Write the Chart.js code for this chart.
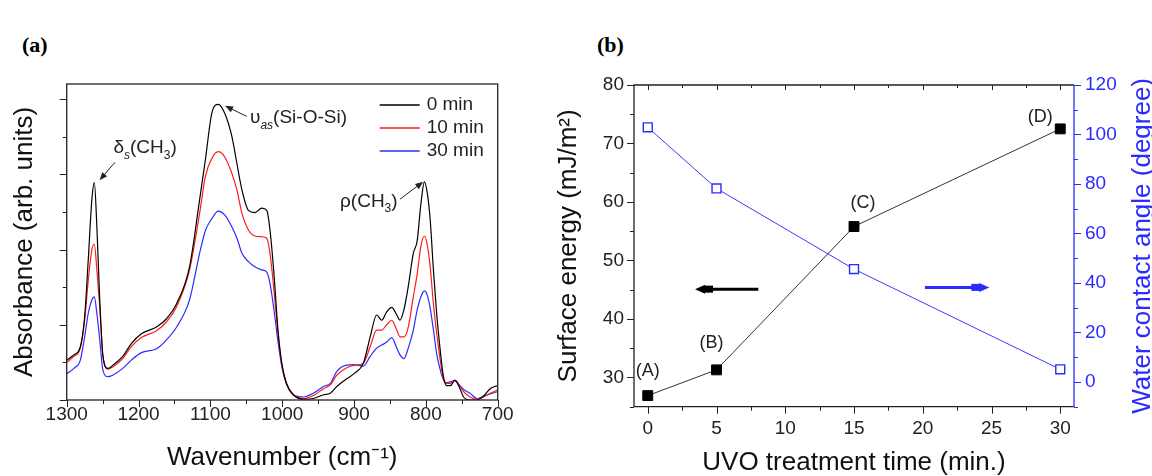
<!DOCTYPE html>
<html>
<head>
<meta charset="utf-8">
<script src="https://cdn.jsdelivr.net/npm/chart.js@4.4.0/dist/chart.umd.min.js"></script>
<style>
body { margin:0; background:#fff; width:1152px; height:476px; overflow:hidden; position:relative; }
#boxA { position:absolute; left:0; top:0; width:540px; height:476px; }
#boxB { position:absolute; left:540px; top:0; width:612px; height:476px; }
.tag { position:absolute; font-family:'Liberation Serif', serif; font-weight:bold; font-size:22px; line-height:24px; color:#000; }
</style>
</head>
<body>
<div class="tag" style="left:22px; top:33px;">(a)</div>
<div class="tag" style="left:597px; top:33px;">(b)</div>
<div id="boxA"><canvas id="chartA" width="540" height="476"></canvas></div>
<div id="boxB"><canvas id="chartB" width="612" height="476"></canvas></div>
<script>
// ---- panel (a): FTIR spectra ----
const wavenumber = [1300,1290,1281,1275,1270,1265,1261.5,1258,1254,1249.5,1242.5,1236,1222,1210,1196,1175,1161,1147,1129,1115,1107,1098,1089,1080,1070,1063,1056,1047,1038,1028.5,1021.5,1017,1011.5,1005.5,1000.5,994,984.5,970.5,956.5,942.5,933,924,912,900,887,877.5,868.5,861.5,854.5,847.5,840.5,836,830.5,824.5,817.5,812,807,802,798,794,789.5,785,780,775.5,771,766,759.5,752.5,747.5,738.5,729,720,710.5,701];
const abs0min = [0.53,0.60,0.71,1.11,1.86,2.66,2.89,2.30,1.33,0.58,0.42,0.46,0.58,0.75,0.88,0.97,1.08,1.28,1.77,2.66,3.19,3.81,3.93,3.81,3.50,3.14,2.79,2.52,2.49,2.55,2.52,2.26,1.68,0.89,0.49,0.22,0.07,0.01,0.02,0.07,0.09,0.18,0.27,0.35,0.49,0.84,1.13,1.06,1.17,1.23,1.13,1.06,1.20,1.51,1.95,2.12,2.60,2.90,2.75,2.40,1.73,1.15,0.66,0.31,0.19,0.19,0.26,0.15,0.04,0.00,0.00,0.05,0.15,0.19];
const abs10min = [0.50,0.58,0.69,1.06,1.59,2.00,2.07,1.73,1.24,0.58,0.41,0.44,0.55,0.71,0.83,0.92,1.04,1.24,1.73,2.48,2.97,3.21,3.30,3.23,3.01,2.79,2.48,2.26,2.18,2.17,2.15,1.95,1.46,0.84,0.46,0.21,0.07,0.02,0.06,0.15,0.20,0.33,0.42,0.46,0.49,0.71,0.93,0.93,1.00,1.06,0.93,0.84,0.84,0.97,1.37,1.68,2.04,2.18,2.06,1.77,1.28,0.89,0.53,0.27,0.22,0.22,0.26,0.18,0.11,0.04,0.01,0.04,0.09,0.13];
const abs30min = [0.35,0.42,0.53,0.84,1.15,1.33,1.37,1.15,0.80,0.39,0.31,0.33,0.42,0.53,0.63,0.68,0.80,0.97,1.33,1.95,2.25,2.41,2.51,2.46,2.30,2.15,1.95,1.84,1.77,1.73,1.70,1.55,1.20,0.75,0.44,0.22,0.07,0.04,0.09,0.18,0.22,0.38,0.46,0.47,0.45,0.58,0.69,0.73,0.77,0.83,0.69,0.60,0.55,0.69,0.93,1.20,1.37,1.45,1.39,1.22,0.93,0.62,0.40,0.27,0.23,0.24,0.26,0.19,0.14,0.09,0.02,0.05,0.08,0.11];
const spectraNames = ['0 min','10 min','30 min'];
const spectraColors = ['#000000','#ff1a1a','#2b2bff'];
const wnTicks = [1300,1200,1100,1000,900,800,700];

// ---- panel (b): surface energy / contact angle ----
const uvoTime = [0,5,15,30];
const surfaceEnergy = [26.9,31.3,55.8,72.5];
const contactAngle = [102.9,78.2,45.6,5.1];
const sampleTags = ['(A)','(B)','(C)','(D)'];
const timeTicks = [0,5,10,15,20,25,30];
const energyTicks = [30,40,50,60,70,80];
const angleTicks = [0,20,40,60,80,100,120];

const FONT = '"Liberation Sans", Arial, sans-serif';
const BLUE = '#2b2bff';

function pts(xs, ys){ return xs.map((x,i)=>({x:x, y:ys[i]})); }
function setTicks(list){ return function(scale){ scale.ticks = list.map(v=>({value:v})); }; }
function plain(v){ return String(v); }

function tickRun(ctx, scale, from, to, step, majorEvery, side, color, lenMajor, lenMinor){
    ctx.strokeStyle = color;
    ctx.lineWidth = 1;
    ctx.beginPath();
    for (let v = from; v <= to + 1e-9; v += step){
        const major = Math.abs(v/majorEvery - Math.round(v/majorEvery)) < 1e-6;
        const len = major ? lenMajor : lenMinor;
        const p = Math.round(scale.getPixelForValue(v)) + 0.5;
        if (side === 'bottom'){ ctx.moveTo(p, scale.top); ctx.lineTo(p, scale.top + len); }
        if (side === 'top'){ const a = scale.chart.chartArea.top; ctx.moveTo(p, a); ctx.lineTo(p, a + len); }
        if (side === 'left'){ ctx.moveTo(scale.right, p); ctx.lineTo(scale.right - len, p); }
        if (side === 'right'){ ctx.moveTo(scale.left, p); ctx.lineTo(scale.left + len, p); }
    }
    ctx.stroke();
}

// text with sub-scripts: parts = [[text, sub?, italic?], ...]
function richText(ctx, parts, x, y, size){
    let cx = x;
    parts.forEach(function(p){
        const s = p[1] ? Math.round(size*0.62) : size;
        ctx.font = (p[2] ? 'italic ' : '') + s + 'px ' + FONT;
        ctx.fillText(p[0], cx, y + (p[1] ? size*0.4 : 0));
        cx += ctx.measureText(p[0]).width;
    });
}

function arrowLine(ctx, x1, y1, x2, y2, head){
    const a = Math.atan2(y2-y1, x2-x1);
    ctx.beginPath(); ctx.moveTo(x1,y1); ctx.lineTo(x2 - Math.cos(a)*head*0.8, y2 - Math.sin(a)*head*0.8); ctx.stroke();
    ctx.beginPath();
    ctx.moveTo(x2, y2);
    ctx.lineTo(x2 - head*Math.cos(a) + head*0.4*Math.sin(a), y2 - head*Math.sin(a) - head*0.4*Math.cos(a));
    ctx.lineTo(x2 - head*Math.cos(a) - head*0.4*Math.sin(a), y2 - head*Math.sin(a) + head*0.4*Math.cos(a));
    ctx.closePath(); ctx.fill();
}

// chunky arrow: shaft + block + point, horizontal
function blockArrow(ctx, xTail, xTip, y, color){
    const dir = xTip > xTail ? 1 : -1;
    ctx.fillStyle = color; ctx.strokeStyle = color;
    ctx.lineWidth = 3;
    ctx.beginPath(); ctx.moveTo(xTail, y); ctx.lineTo(xTip - dir*16, y); ctx.stroke();
    ctx.fillRect(Math.min(xTip - dir*18, xTip - dir*9), y - 3.5, 9, 7);
    ctx.beginPath();
    ctx.moveTo(xTip, y); ctx.lineTo(xTip - dir*10, y - 4.5); ctx.lineTo(xTip - dir*10, y + 4.5);
    ctx.closePath(); ctx.fill();
}

const frameA = {
    id: 'frameA',
    afterDraw(chart){
        const ctx = chart.ctx, a = chart.chartArea;
        const xs = chart.scales.x, ys = chart.scales.y;
        ctx.save();
        ctx.strokeStyle = '#222'; ctx.lineWidth = 1.3;
        ctx.strokeRect(a.left, a.top, a.right - a.left, a.bottom - a.top);
        tickRun(ctx, xs, 700, 1300, 50, 100, 'bottom', '#222', 7, 4);
        tickRun(ctx, ys, 0, 4, 0.5, 1, 'left', '#222', 7, 4);

        // legend
        ctx.textBaseline = 'middle'; ctx.textAlign = 'left';
        spectraNames.forEach(function(n, i){
            const y = a.top + 21 + i*23;
            ctx.strokeStyle = spectraColors[i]; ctx.lineWidth = 1.3;
            ctx.beginPath(); ctx.moveTo(a.right - 118, y); ctx.lineTo(a.right - 78, y); ctx.stroke();
            ctx.fillStyle = '#222'; ctx.font = '19px ' + FONT;
            ctx.fillText(n, a.right - 71, y);
        });

        // peak annotations (data coordinates)
        ctx.fillStyle = '#222'; ctx.strokeStyle = '#222'; ctx.lineWidth = 1;
        const X = v => xs.getPixelForValue(v), Y = v => ys.getPixelForValue(v);
        richText(ctx, [['\u03b4'],['s',1,1],['(CH'],['3',1],[')']], X(1235), Y(3.35), 19);
        arrowLine(ctx, X(1232.8), Y(3.16), X(1254.3), Y(2.92), 8);
        richText(ctx, [['\u03c5'],['as',1,1],['(Si-O-Si)']], X(1044.8), Y(3.75), 19);
        arrowLine(ctx, X(1049.4), Y(3.77), X(1079.6), Y(3.91), 8);
        richText(ctx, [['\u03c1(CH'],['3',1],[')']], X(919.5), Y(2.64), 19);
        arrowLine(ctx, X(836), Y(2.67), X(803.6), Y(2.90), 8);
        ctx.restore();
    }
};

new Chart(document.getElementById('chartA').getContext('2d'), {
    type: 'line',
    data: {
        datasets: [abs0min, abs10min, abs30min].map(function(s, i){
            return {
                label: spectraNames[i],
                data: pts(wavenumber, s),
                borderColor: spectraColors[i],
                borderWidth: 1.2,
                pointRadius: 0,
                cubicInterpolationMode: 'monotone'
            };
        })
    },
    options: {
        responsive: false,
        animation: false,
        devicePixelRatio: 1,
        layout: { padding: { top: 84, right: 42.3, left: 0, bottom: 0 } },
        plugins: { legend: { display: false }, tooltip: { enabled: false } },
        scales: {
            x: {
                type: 'linear', min: 700, max: 1300, reverse: true,
                afterBuildTicks: setTicks(wnTicks),
                afterFit: function(s){ s.height = 76; },
                grid: { display: false, drawTicks: false },
                border: { display: false },
                ticks: { color: '#222', padding: 5, maxRotation: 0, callback: plain, font: { family: FONT, size: 19, lineHeight: 1 } },
                title: { display: true, text: 'Wavenumber (cm\u207b\u00b9)', color: '#111', padding: { top: 0, bottom: 5 }, font: { family: FONT, size: 26, lineHeight: 1 } }
            },
            y: {
                min: 0, max: 4.2,
                afterFit: function(s){ s.width = 66.7; },
                grid: { display: false, drawTicks: false },
                border: { display: false },
                ticks: { display: false },
                title: { display: true, text: 'Absorbance (arb. units)', color: '#111', padding: { top: 12, bottom: 0 }, font: { family: FONT, size: 26, lineHeight: 1 } }
            }
        }
    },
    plugins: [frameA]
});

// tag offsets (px) from each surface-energy point
const tagOffsetX = [0, -5, 9, -20];
const tagOffsetY = [-25, -27, -24, -12];

const frameB = {
    id: 'frameB',
    afterDraw(chart){
        const ctx = chart.ctx, a = chart.chartArea;
        const xs = chart.scales.x, yl = chart.scales.y, yr = chart.scales.y1;
        ctx.save();
        ctx.lineWidth = 1.3;
        ctx.strokeStyle = '#222';
        ctx.beginPath();
        ctx.moveTo(a.right, a.top); ctx.lineTo(a.left, a.top); ctx.lineTo(a.left, a.bottom); ctx.lineTo(a.right, a.bottom);
        ctx.stroke();
        ctx.strokeStyle = BLUE;
        ctx.beginPath(); ctx.moveTo(a.right, a.top); ctx.lineTo(a.right, a.bottom); ctx.stroke();

        tickRun(ctx, xs, 0, 30, 2.5, 5, 'bottom', '#222', 7, 4);
        tickRun(ctx, xs, 0, 30, 2.5, 5, 'top', '#222', 5, 3);
        tickRun(ctx, yl, 25, 80, 5, 10, 'left', '#222', 7, 4);
        tickRun(ctx, yr, -10, 120, 10, 20, 'right', BLUE, 7, 4);

        // sample tags
        ctx.fillStyle = '#222'; ctx.font = '18px ' + FONT;
        ctx.textAlign = 'center'; ctx.textBaseline = 'middle';
        sampleTags.forEach(function(t, i){
            ctx.fillText(t, xs.getPixelForValue(uvoTime[i]) + tagOffsetX[i], yl.getPixelForValue(surfaceEnergy[i]) + tagOffsetY[i]);
        });

        // axis pointers
        blockArrow(ctx, xs.getPixelForValue(8.04), xs.getPixelForValue(3.44), yl.getPixelForValue(45.1), '#000');
        blockArrow(ctx, xs.getPixelForValue(20.16), xs.getPixelForValue(24.84), yl.getPixelForValue(45.4), BLUE);

        // right axis title, reading bottom-to-top
        ctx.translate(chart.width - 9, (a.top + a.bottom) / 2);
        ctx.rotate(-Math.PI / 2);
        ctx.fillStyle = BLUE; ctx.font = '26px ' + FONT;
        ctx.fillText('Water contact angle (degree)', 0, 0);
        ctx.restore();
    }
};

new Chart(document.getElementById('chartB').getContext('2d'), {
    type: 'line',
    data: {
        datasets: [
            {
                label: 'Surface energy',
                data: pts(uvoTime, surfaceEnergy),
                yAxisID: 'y',
                borderColor: '#333',
                borderWidth: 1,
                pointStyle: 'rect',
                pointRadius: 7,
                pointBackgroundColor: '#000',
                pointBorderColor: '#000',
                pointBorderWidth: 1
            },
            {
                label: 'Water contact angle',
                data: pts(uvoTime, contactAngle),
                yAxisID: 'y1',
                borderColor: '#3a3aff',
                borderWidth: 1,
                pointStyle: 'rect',
                pointRadius: 6.3,
                pointBackgroundColor: '#fff',
                pointBorderColor: BLUE,
                pointBorderWidth: 1.4
            }
        ]
    },
    options: {
        responsive: false,
        animation: false,
        devicePixelRatio: 1,
        layout: { padding: { top: 85, right: 0, left: 0, bottom: 0 } },
        plugins: { legend: { display: false }, tooltip: { enabled: false } },
        scales: {
            x: {
                type: 'linear', min: -1, max: 31,
                afterBuildTicks: setTicks(timeTicks),
                afterFit: function(s){ s.height = 69.3; },
                grid: { display: false, drawTicks: false },
                border: { display: false },
                ticks: { color: '#222', padding: 13, maxRotation: 0, callback: plain, font: { family: FONT, size: 19, lineHeight: 1 } },
                title: { display: true, text: 'UVO treatment time (min.)', color: '#111', padding: { top: 0, bottom: 0 }, font: { family: FONT, size: 26, lineHeight: 1 } }
            },
            y: {
                position: 'left', min: 25, max: 80,
                afterBuildTicks: setTicks(energyTicks),
                afterFit: function(s){ s.width = 94; },
                grid: { display: false, drawTicks: false },
                border: { display: false },
                ticks: { color: '#222', padding: 10, callback: plain, font: { family: FONT, size: 19, lineHeight: 1 } },
                title: { display: true, text: 'Surface energy (mJ/m\u00b2)', color: '#111', padding: { top: 16, bottom: 0 }, font: { family: FONT, size: 26, lineHeight: 1 } }
            },
            y1: {
                position: 'right', min: -10, max: 120,
                afterBuildTicks: setTicks(angleTicks),
                afterFit: function(s){ s.width = 78; },
                grid: { display: false, drawTicks: false },
                border: { display: false },
                ticks: { color: BLUE, padding: 11, callback: plain, font: { family: FONT, size: 19, lineHeight: 1 } }
            }
        }
    },
    plugins: [frameB]
});
</script>
</body>
</html>
